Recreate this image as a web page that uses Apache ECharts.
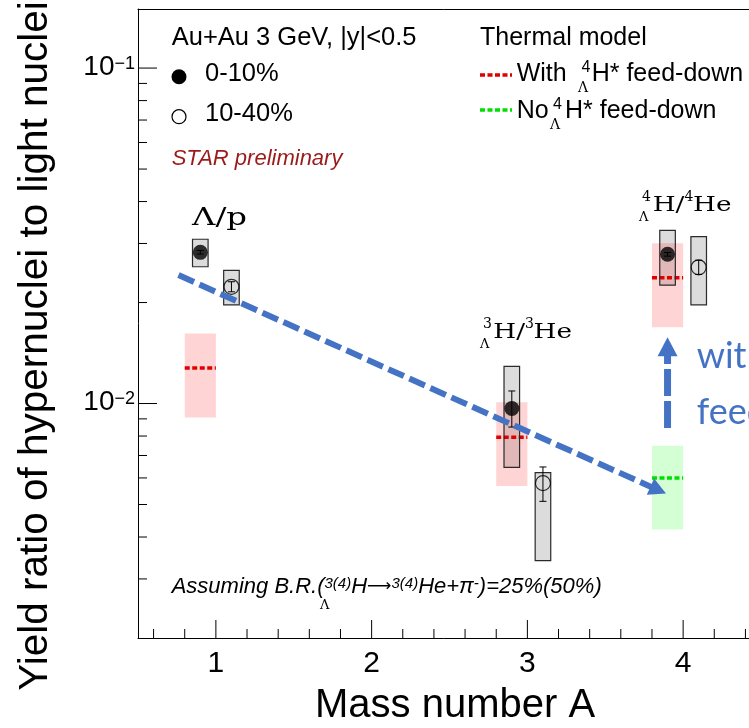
<!DOCTYPE html>
<html><head><meta charset="utf-8">
<script src="https://cdn.jsdelivr.net/npm/echarts@6/dist/echarts.min.js"></script>
<style>html,body{margin:0;padding:0;background:#fff;overflow:hidden}#c{width:749px;height:728px}</style>
</head><body><div id="c"></div>
<script>
// ---------------- data ----------------
const xTickLabels = ['1', '2', '3', '4'];
const xMajorTicks = [1, 2, 3, 4];
const xMinorTicks = [0.6, 0.8, 1.2, 1.4, 1.6, 1.8, 2.2, 2.4, 2.6, 2.8, 3.2, 3.4, 3.6, 3.8, 4.2, 4.4];
const yMajorTicks = [0.01, 0.1];
const yTickExponents = ['−2', '−1'];
const yMinorTicks = [0.003, 0.004, 0.005, 0.006, 0.007, 0.008, 0.009, 0.02, 0.03, 0.04, 0.05, 0.06, 0.07, 0.08, 0.09];

// 0-10% centrality (filled circles)
const massCentral = [0.9, 2.9, 3.9];
const ratioCentral = [0.02823, 0.00966, 0.02785];
const statLowCentral = [0.0279, 0.00851, 0.0275];
const statHighCentral = [0.0286, 0.01090, 0.0282];
const sysLowCentral = [0.02557, 0.00645, 0.02254];
const sysHighCentral = [0.03088, 0.01290, 0.03284];

// 10-40% centrality (open circles)
const massPeripheral = [1.1, 3.1, 4.1];
const ratioPeripheral = [0.02228, 0.00579, 0.02547];
const statLowPeripheral = [0.02153, 0.00511, 0.02427];
const statHighPeripheral = [0.02307, 0.00647, 0.02673];
const sysLowPeripheral = [0.01969, 0.00340, 0.01969];
const sysHighPeripheral = [0.02494, 0.00622, 0.03143];

// Thermal model, with 4ΛH* feed-down
const massThermalWith = [0.9, 2.9, 3.9];
const thermalWith = [0.01277, 0.00793, 0.02371];
const thermalWithLow = [0.00908, 0.00568, 0.01689];
const thermalWithHigh = [0.01618, 0.01009, 0.03003];

// Thermal model, no 4ΛH* feed-down
const massThermalNo = [3.9];
const thermalNo = [0.00600];
const thermalNoLow = [0.00421];
const thermalNoHigh = [0.00749];

// annotation arrows [A, ratio] -> [A, ratio]
const trendArrowStart = [0.76, 0.02415];
const trendArrowEnd = [3.89, 0.00539];
const feedArrowStart = [3.9, 0.00845];
const feedArrowEnd = [3.9, 0.01576];

// ---------------- helpers ----------------
const F = '"Liberation Sans", Arial, Helvetica, sans-serif';
const SERIF = '"DejaVu Serif", "Liberation Serif", serif';
const X_MIN = 0.5, X_MAX = 4.5, Y_MIN = 0.002, Y_MAX = 0.15;
const SYS_HALF = 0.05, BAND_HALF = 0.1;

function zip(...arrs) { return arrs[0].map((_, i) => arrs.map(a => a[i])); }

const tickData = [];
xMajorTicks.forEach(v => tickData.push([v, Y_MIN, 0, 18]));
xMinorTicks.forEach(v => tickData.push([v, Y_MIN, 0, 9]));
yMajorTicks.forEach(v => tickData.push([X_MIN, v, 1, 19]));
yMinorTicks.forEach(v => tickData.push([X_MIN, v, 1, 9]));

function renderTick(params, api) {
  const p = api.coord([api.value(0), api.value(1)]);
  const len = api.value(3);
  const isY = api.value(2) === 1;
  return {
    type: 'line',
    shape: isY ? { x1: p[0], y1: p[1], x2: p[0] + len, y2: p[1] } : { x1: p[0], y1: p[1], x2: p[0], y2: p[1] - len },
    style: { stroke: '#000', lineWidth: 1 }
  };
}

function rectFrom(api, half) {
  const x = api.value(0), lo = api.value(1), hi = api.value(2);
  const a = api.coord([x - half, hi]);
  const b = api.coord([x + half, lo]);
  return { x: a[0], y: a[1], width: b[0] - a[0], height: b[1] - a[1] };
}

function renderSysFill(params, api) {
  return { type: 'rect', shape: rectFrom(api, SYS_HALF), style: { fill: '#dcdcdc', stroke: null } };
}
function renderSysOutline(params, api) {
  return { type: 'rect', shape: rectFrom(api, SYS_HALF), style: { fill: null, stroke: '#2a2a2a', lineWidth: 1.2 } };
}
function makeBandRenderer(fill, lineColor) {
  return function (params, api) {
    const x = api.value(0), lo = api.value(1), hi = api.value(2), c = api.value(3);
    const a = api.coord([x - BAND_HALF, hi]);
    const b = api.coord([x + BAND_HALF, lo]);
    const m = api.coord([x, c]);
    return {
      type: 'group', children: [
        { type: 'rect', shape: { x: a[0], y: a[1], width: b[0] - a[0], height: b[1] - a[1] }, style: { fill: fill } },
        { type: 'line', shape: { x1: a[0], y1: m[1], x2: b[0], y2: m[1] }, style: { stroke: lineColor, lineWidth: 3.5, lineDash: [5, 2.5] } }
      ]
    };
  };
}
function renderErr(params, api) {
  const x = api.value(0);
  const lo = api.coord([x, api.value(1)]);
  const hi = api.coord([x, api.value(2)]);
  const w = 3.5;
  return {
    type: 'group', children: [
      { type: 'line', shape: { x1: lo[0], y1: lo[1], x2: hi[0], y2: hi[1] }, style: { stroke: '#000', lineWidth: 1 } },
      { type: 'line', shape: { x1: lo[0] - w, y1: lo[1], x2: lo[0] + w, y2: lo[1] }, style: { stroke: '#000', lineWidth: 1 } },
      { type: 'line', shape: { x1: hi[0] - w, y1: hi[1], x2: hi[0] + w, y2: hi[1] }, style: { stroke: '#000', lineWidth: 1 } }
    ]
  };
}
const arrowStyles = [
  { dash: [17, 6], width: 6, headL: 17, headW: 9 },
  { dash: [27, 5], width: 7, headL: 19, headW: 10 }
];
function renderArrow(params, api) {
  const s = arrowStyles[params.dataIndex];
  const a = api.coord([api.value(0), api.value(1)]);
  const b = api.coord([api.value(2), api.value(3)]);
  const dx = b[0] - a[0], dy = b[1] - a[1], L = Math.hypot(dx, dy);
  const ux = dx / L, uy = dy / L;
  const base = [b[0] - ux * s.headL, b[1] - uy * s.headL];
  return {
    type: 'group', children: [
      { type: 'line', shape: { x1: a[0], y1: a[1], x2: base[0] + ux * 2, y2: base[1] + uy * 2 }, style: { stroke: '#4472C4', lineWidth: s.width, lineDash: s.dash } },
      { type: 'polygon', shape: { points: [[b[0], b[1]], [base[0] - uy * s.headW, base[1] + ux * s.headW], [base[0] + uy * s.headW, base[1] - ux * s.headW]] }, style: { fill: '#4472C4' } }
    ]
  };
}

function isPow10(v) { const e = Math.log10(v); return Math.abs(e - Math.round(e)) < 1e-6; }

// ---------------- graphic texts ----------------
function txt(x, y, text, font, fill, extra) {
  return Object.assign({ type: 'text', x: x, y: y, style: { text: text, font: font, fill: fill || '#000', align: 'left', verticalAlign: 'middle' } }, extra || {});
}
const graphics = [
  // axis titles
  { type: 'text', x: 36, y: 346, rotation: Math.PI / 2, style: { text: 'Yield ratio of hypernuclei to light nuclei', font: '40.5px ' + F, fill: '#000', align: 'center', verticalAlign: 'middle' } },
  txt(315, 706, 'Mass number A', '40px ' + F),
  // legend left
  txt(171.7, 37.8, 'Au+Au 3 GeV, |y|<0.5', '25.5px ' + F),
  { type: 'circle', shape: { cx: 179, cy: 76.7, r: 7.5 }, style: { fill: '#000' } },
  txt(205, 74.4, '0-10%', '25.5px ' + F),
  { type: 'circle', shape: { cx: 179, cy: 116.7, r: 7 }, style: { fill: '#fff', stroke: '#000', lineWidth: 1.2 } },
  txt(205, 114.4, '10-40%', '25.5px ' + F),
  txt(171.7, 159, 'STAR preliminary', 'italic 22px ' + F, '#9b1b1b'),
  // legend right
  txt(480, 37.8, 'Thermal model', '25px ' + F),
  { type: 'line', shape: { x1: 480, y1: 75, x2: 512, y2: 75 }, style: { stroke: '#e00000', lineWidth: 3.5, lineDash: [5, 2.5] } },
  txt(516.7, 74.4, 'With', '25px ' + F),
  txt(581.5, 67.5, '4', '16px ' + F),
  txt(578, 88, 'Λ', '14px ' + SERIF),
  txt(591.7, 74.4, 'H* feed-down', '25px ' + F),
  { type: 'line', shape: { x1: 480, y1: 110, x2: 512, y2: 110 }, style: { stroke: '#00e000', lineWidth: 3.5, lineDash: [5, 2.5] } },
  txt(516.7, 111.1, 'No', '25px ' + F),
  txt(553, 104.5, '4', '16px ' + F),
  txt(550, 125, 'Λ', '14px ' + SERIF),
  txt(565, 111.1, 'H* feed-down', '25px ' + F),
  // note
  { type: 'text', x: 171.7, y: 587, style: {
      text: 'Assuming B.R.({s|3(4)}H{a|⟶}{s|3(4)}He+π{s|-})=25%(50%)',
      font: 'italic 22px ' + F, fill: '#000', align: 'left', verticalAlign: 'middle', lineHeight: 21,
      rich: {
        s: { fontSize: 15, fontStyle: 'italic', fontFamily: F, lineHeight: 15, padding: [0, 0, 6, 0], verticalAlign: 'top' },
        a: { fontSize: 17, fontFamily: '"DejaVu Sans", sans-serif', lineHeight: 21 }
      }
  } },
  txt(320, 606, 'Λ', '13px ' + SERIF),
  // particle labels
  txt(192, 219, 'Λ/p', '24px ' + SERIF, '#000', { scaleX: 1.35 }),
  txt(483, 324.5, '3', '14px ' + SERIF),
  txt(480, 345, 'Λ', '13px ' + SERIF),
  txt(493.3, 333, 'H/', '21px ' + SERIF, '#000', { scaleX: 1.25 }),
  txt(525, 324, '3', '14px ' + SERIF),
  txt(533.5, 333, 'He', '21px ' + SERIF, '#000', { scaleX: 1.25 }),
  txt(642, 197.5, '4', '14px ' + SERIF),
  txt(639, 218, 'Λ', '13px ' + SERIF),
  txt(652.7, 206, 'H/', '21px ' + SERIF, '#000', { scaleX: 1.25 }),
  txt(684.5, 197, '4', '14px ' + SERIF),
  txt(693, 206, 'He', '21px ' + SERIF, '#000', { scaleX: 1.25 }),
  // blue annotation text (cut by the picture edge)
  txt(696.7, 356, 'with', '36px Lato, "Open Sans", sans-serif', '#4472C4'),
  txt(696.7, 412.7, 'feed-down', '36px Lato, "Open Sans", sans-serif', '#4472C4')
];

// ---------------- chart ----------------
const chart = echarts.init(document.getElementById('c'), null, { renderer: 'canvas', width: 749, height: 728 });
chart.setOption({
  animation: false,
  backgroundColor: '#fff',
  grid: { left: 138, top: 9, width: 623, height: 629, containLabel: false, outerBoundsMode: 'none', show: false },
  xAxis: [{
    type: 'value', min: X_MIN, max: X_MAX, interval: 0.5,
    axisLine: { lineStyle: { color: '#000', width: 1 } },
    axisTick: { show: false }, splitLine: { show: false },
    axisLabel: {
      margin: 11, fontSize: 30, fontFamily: F, color: '#000', hideOverlap: false,
      formatter: v => { const i = xMajorTicks.findIndex(t => Math.abs(t - v) < 1e-9); return i >= 0 ? xTickLabels[i] : ''; }
    }
  }, {
    type: 'value', position: 'top', min: X_MIN, max: X_MAX, interval: 0.5,
    axisLine: { show: true, lineStyle: { color: '#000', width: 1 } },
    axisTick: { show: false }, splitLine: { show: false }, axisLabel: { show: false }
  }],
  yAxis: {
    type: 'log', logBase: 10, min: Y_MIN, max: Y_MAX,
    axisLine: { lineStyle: { color: '#000', width: 1 } },
    axisTick: { show: false }, splitLine: { show: false }, minorTick: { show: false },
    axisLabel: {
      margin: 3, color: '#000', fontFamily: F, showMinLabel: true, showMaxLabel: true,
      formatter: v => {
        if (!isPow10(v)) return '';
        const i = yMajorTicks.findIndex(t => Math.abs(Math.log10(t) - Math.log10(v)) < 1e-6);
        return i >= 0 ? '{b|10}{s|' + yTickExponents[i] + '}' : '';
      },
      rich: {
        b: { fontSize: 28, fontFamily: F, color: '#000', lineHeight: 26, verticalAlign: 'bottom' },
        s: { fontSize: 18, fontFamily: F, color: '#000', lineHeight: 18, padding: [0, 0, 16, 0], verticalAlign: 'top' }
      }
    }
  },
  graphic: graphics,
  series: [
    { type: 'custom', name: 'axis ticks', renderItem: renderTick, data: tickData, silent: true, z: 5 },
    { type: 'custom', name: '0-10% sys fill', renderItem: renderSysFill, data: zip(massCentral, sysLowCentral, sysHighCentral) },
    { type: 'custom', name: '10-40% sys fill', renderItem: renderSysFill, data: zip(massPeripheral, sysLowPeripheral, sysHighPeripheral) },
    { type: 'custom', name: 'Thermal, with feed-down', renderItem: makeBandRenderer('rgba(255,0,0,0.17)', '#e00000'), data: zip(massThermalWith, thermalWithLow, thermalWithHigh, thermalWith) },
    { type: 'custom', name: 'Thermal, no feed-down', renderItem: makeBandRenderer('rgba(0,255,0,0.17)', '#00e000'), data: zip(massThermalNo, thermalNoLow, thermalNoHigh, thermalNo) },
    { type: 'custom', name: '0-10% sys', renderItem: renderSysOutline, data: zip(massCentral, sysLowCentral, sysHighCentral) },
    { type: 'custom', name: '10-40% sys', renderItem: renderSysOutline, data: zip(massPeripheral, sysLowPeripheral, sysHighPeripheral) },
    { type: 'custom', name: '0-10% stat', renderItem: renderErr, data: zip(massCentral, statLowCentral, statHighCentral) },
    { type: 'custom', name: '10-40% stat', renderItem: renderErr, data: zip(massPeripheral, statLowPeripheral, statHighPeripheral) },
    { type: 'scatter', name: '0-10%', z: 4, data: zip(massCentral, ratioCentral), symbol: 'circle', symbolSize: 15, itemStyle: { color: '#000', borderWidth: 0 } },
    { type: 'scatter', name: '10-40%', z: 4, data: zip(massPeripheral, ratioPeripheral), symbol: 'circle', symbolSize: 15, itemStyle: { color: 'rgba(0,0,0,0)', borderColor: '#000', borderWidth: 1.2 } },
    { type: 'custom', name: 'arrows', renderItem: renderArrow, data: [trendArrowStart.concat(trendArrowEnd), feedArrowStart.concat(feedArrowEnd)], z: 6 }
  ]
});
</script>
</body></html>
